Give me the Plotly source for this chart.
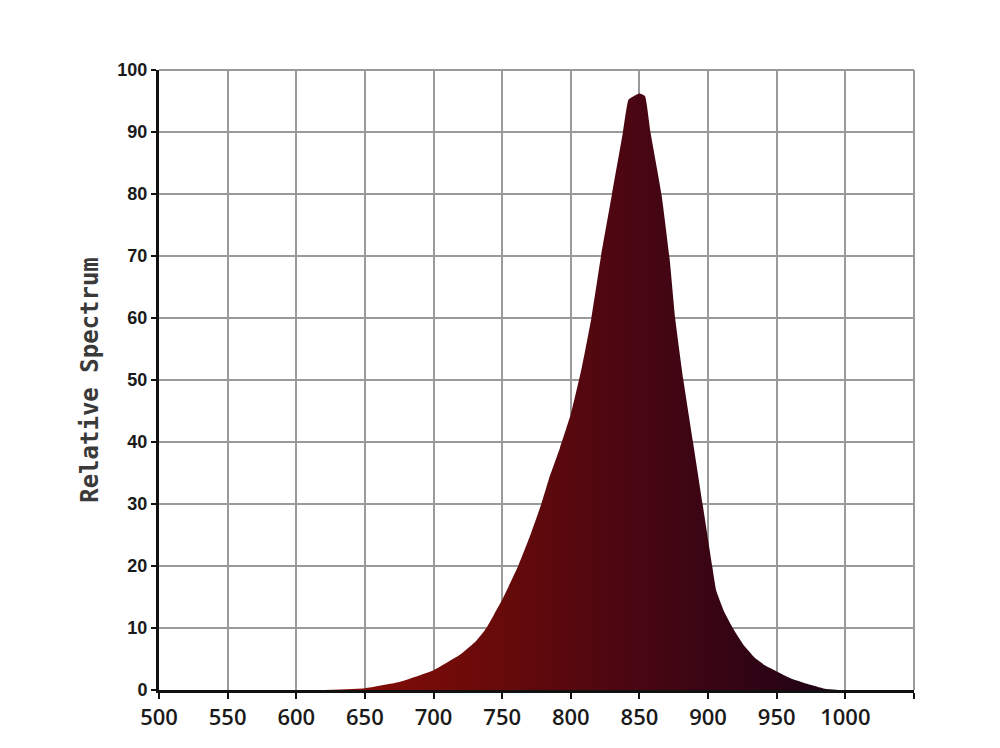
import plotly.graph_objects as go

# Data
wavelength = [620, 650, 675, 700, 720, 731, 738.5, 751, 761.6, 771, 778.5, 784, 792, 800,
              808, 815, 822, 830, 838, 842, 846, 850, 854, 858, 866, 872, 876, 882,
              889, 896, 903, 906, 912, 918, 926, 934, 942, 950, 960, 972, 985, 995]
relative = [0, 0.3, 1.3, 3.2, 5.8, 7.9, 10, 15, 20, 25.3, 30, 34, 39, 44.5,
            52, 60, 70, 80, 90, 95.2, 95.8, 96.2, 95.8, 90, 80, 69.5, 60, 50,
            40, 30, 20, 16, 12.5, 10, 7.2, 5.2, 3.9, 3.0, 1.9, 1.0, 0.2, 0]

x_tickvals = [500, 550, 600, 650, 700, 750, 800, 850, 900, 950, 1000, 1050]
x_ticktext = ["500", "550", "600", "650", "700", "750", "800", "850", "900", "950", "1000", ""]
y_tickvals = [0, 10, 20, 30, 40, 50, 60, 70, 80, 90, 100]

fig = go.Figure()
fig.add_trace(go.Scatter(
    x=wavelength, y=relative, mode="lines", fill="tozeroy",
    line=dict(width=0, color="#4a0612", shape="spline", smoothing=0.4),
    fillgradient=dict(type="horizontal",
                      colorscale=[[0, "#8a0d06"], [0.35, "#660a0a"], [0.6, "#4a0612"], [1, "#1e0316"]]),
    hoverinfo="x+y", showlegend=False,
))

fig.update_layout(
    width=1000, height=748,
    paper_bgcolor="white", plot_bgcolor="white",
    margin=dict(l=151, r=94, t=62, b=66),
    font=dict(family="Liberation Sans", color="#1a1a1a"),
)
fig.update_xaxes(
    range=[500, 1050], tickvals=x_tickvals, ticktext=x_ticktext,
    showgrid=True, gridcolor="#9a9a9a", gridwidth=2,
    showline=True, linecolor="#111111", linewidth=3,
    ticks="outside", ticklen=6, tickwidth=2, tickcolor="#111111",
    tickfont=dict(family="Open Sans", size=22, color="#1a1a1a", weight=600),
    zeroline=False, mirror=False,
)
fig.update_yaxes(
    range=[0, 100], tickvals=y_tickvals,
    showgrid=True, gridcolor="#9a9a9a", gridwidth=2,
    showline=True, linecolor="#111111", linewidth=3,
    ticks="outside", ticklen=5, tickwidth=2, tickcolor="#111111",
    tickfont=dict(family="Liberation Sans", size=18, color="#1a1a1a", weight="bold"),
    zeroline=False,
    title=dict(text="Relative Spectrum", standoff=12,
               font=dict(family="DejaVu Sans Mono", size=24, color="#3a3a3a", weight="bold")),
)
# right and top border as grid-coloured lines
fig.add_shape(type="line", xref="paper", yref="paper", x0=1, x1=1, y0=0, y1=1,
              line=dict(color="#9a9a9a", width=2))
fig.add_shape(type="line", xref="paper", yref="paper", x0=0, x1=1, y0=1, y1=1,
              line=dict(color="#9a9a9a", width=2))

fig.write_html("out.html")
